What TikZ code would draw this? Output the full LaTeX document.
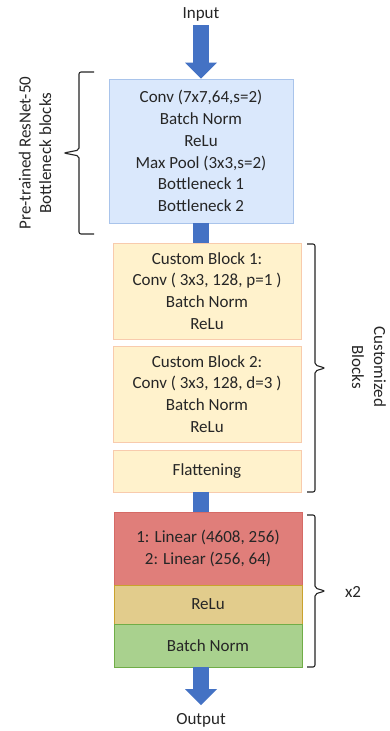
\documentclass[tikz,border=0pt]{standalone}
\usepackage{fontspec}
\setmainfont{Carlito}
\usetikzlibrary{arrows.meta,calc}
\definecolor{arrowblue}{HTML}{4472C4}
\definecolor{bluefill}{HTML}{DAE8FC}
\definecolor{blueline}{HTML}{A9C4EB}
\definecolor{custfill}{HTML}{FFF2CC}
\definecolor{custline}{HTML}{F8CBAD}
\definecolor{redfill}{HTML}{E07E7A}
\definecolor{redline}{HTML}{D56A66}
\definecolor{relufill}{HTML}{E2CC8C}
\definecolor{reluline}{HTML}{C9A22E}
\definecolor{bnfill}{HTML}{A9D18E}
\definecolor{bnline}{HTML}{70AD47}
\tikzset{
  txt/.style={font=\fontsize{17}{21.8}\selectfont, align=center, text=black!85, inner sep=0pt},
  box/.style={txt, draw, line width=0.9pt, minimum width=188pt},
  flow/.style={draw=arrowblue, line width=16pt, -{Triangle[length=16pt,width=32pt,line width=0pt]}},
  shaft/.style={draw=arrowblue, line width=16pt},
  bracestyle/.style={draw=black!85, line width=1.1pt, rounded corners=2pt},
}
\begin{document}
\begin{tikzpicture}[x=1pt,y=-1pt]
\useasboundingbox[fill=white] (0,0) rectangle (390,731);
% nodes
\node[txt] (inp) at (201,14) {Input};
\coordinate (inbot) at (201,25);
\node[box, fill=bluefill, draw=blueline, minimum width=184pt, minimum height=144pt] (pre) at (201,151)
  {Conv (7x7,64,s=2)\\Batch Norm\\ReLu\\Max Pool (3x3,s=2)\\Bottleneck 1\\Bottleneck 2};
\node[box, fill=custfill, draw=custline, minimum height=96pt] (cb1) at (207,291)
  {Custom Block 1:\\Conv ( 3x3, 128, p=1 )\\Batch Norm\\ReLu};
\node[box, fill=custfill, draw=custline, minimum height=96pt] (cb2) at (207,394)
  {Custom Block 2:\\Conv ( 3x3, 128, d=3 )\\Batch Norm\\ReLu};
\node[box, fill=custfill, draw=custline, minimum height=42pt] (flat) at (207,471) {Flattening};
\node[box, fill=redfill, draw=redline, minimum height=73pt] (lin) at (208,548.5)
  {1: Linear (4608, 256)\\2: Linear (256, 64)};
\node[box, fill=relufill, draw=reluline, minimum height=39pt] (relu) at (208,604.5) {ReLu};
\node[box, fill=bnfill, draw=bnline, minimum height=43pt] (bn) at (208,645.5) {Batch Norm};
\coordinate (outtip) at (201,705);
\node[txt] (out) at (201,720) {Output};
% arrows
\draw[flow] (inbot) -- (pre.north);
\draw[shaft] (pre.south) -- (pre.south |- cb1.north);
\draw[shaft] (flat.south -| pre.south) -- (pre.south |- lin.north);
\draw[flow] (bn.south -| pre.south) -- (outtip);
% braces
\draw[bracestyle] (94,72) -- (79,72) -- (79,150) -- (64,153) -- (79,156) -- (79,234) -- (94,234);
\node[txt, rotate=90, font=\fontsize{17}{20.5}\selectfont] (lab1) at (35,153) {Pre-trained ResNet-50\\Bottleneck blocks};
\draw[bracestyle] (307,244) -- (315,244) -- (315,365) -- (325,368) -- (315,371) -- (315,492) -- (307,492);
\node[txt, rotate=-90, font=\fontsize{17}{22}\selectfont] (lab2) at (369,367) {Customized\\Blocks};
\draw[bracestyle] (307,515) -- (315,515) -- (315,588) -- (325,591) -- (315,594) -- (315,667) -- (307,667);
\node[txt] (lab3) at (353,592) {x2};
\end{tikzpicture}
\end{document}
